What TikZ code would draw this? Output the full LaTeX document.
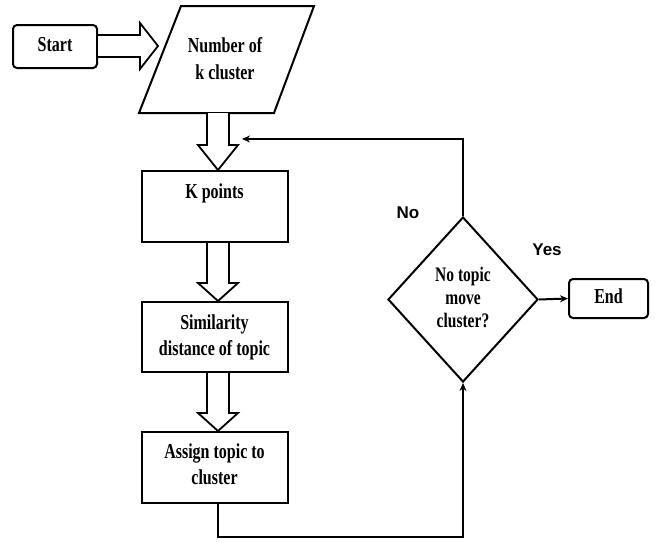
\documentclass[tikz,border=0pt]{standalone}
\usepackage{fontspec}
\setmainfont{Liberation Serif}
\newfontfamily\sansb{Liberation Sans}
\usetikzlibrary{shapes.geometric,arrows.meta,calc}
\newcommand{\tx}[1]{\scalebox{1}[1.33]{\begin{tabular}{@{}c@{}}#1\end{tabular}}}
\begin{document}
\begin{tikzpicture}[x=1pt,y=-1pt,
 box/.style={draw,line width=2pt,inner sep=0},
 rbox/.style={box,rounded corners=4pt},
 txt/.style={font=\bfseries\fontsize{16}{19.6}\selectfont,inner sep=0},
 dtxt/.style={font=\bfseries\fontsize{15.5}{17.4}\selectfont,inner sep=0},
 lbl/.style={font=\sansb\bfseries\fontsize{17}{20}\selectfont,inner sep=0},
 blk/.style={draw,line width=1.8pt,fill=white,line join=miter},
 con/.style={line width=2pt,-{Stealth[length=8pt,width=7pt]}}]
\useasboundingbox[fill=white] (0,0) rectangle (657,542);

% Start
\node[rbox,minimum width=84,minimum height=43] (start) at (55,46.5) {};
\node[txt] (starttxt) at (55,46) {\tx{Start}};

% block arrow start -> parallelogram
\draw[blk] (start.east |- 0,35) -- (140,35) -- (140,23) -- (158,46) -- (140,69) -- (140,57) -- (start.east |- 0,57);

% parallelogram
\coordinate (p1) at (181,6);
\coordinate (p2) at (314,6);
\coordinate (p3) at (274,113);
\coordinate (p4) at (139,113);
\draw[box,line join=miter] (p1) -- (p2) -- (p3) -- (p4) -- cycle;
\node[txt] (num) at (225,61) {\tx{Number of\\[1pt]k cluster}};

% boxes
\node[box,minimum width=146,minimum height=71] (kp) at (214.5,206.5) {};
\node[txt] (kptxt) at (214.5,193) {\tx{K points}};
\node[box,minimum width=146,minimum height=70] (sim) at (214.5,337) {};
\node[txt] (simtxt) at (214.5,337) {\tx{Similarity\\distance of topic}};
\node[box,minimum width=146,minimum height=71] (asg) at (214.5,467.5) {};
\node[txt] (asgtxt) at (214.5,466) {\tx{Assign topic to\\cluster}};

% down block arrows
\draw[blk] (207,113) -- (207,145) -- (198,145) -- (218,0 |- kp.north) -- (238,145) -- (229,145) -- (229,113);
\draw[blk] (207,0 |- kp.south) -- (207,283) -- (198,283) -- (218,0 |- sim.north) -- (238,283) -- (229,283) -- (229,0 |- kp.south);
\draw[blk] (207,0 |- sim.south) -- (207,413) -- (198,413) -- (218,0 |- asg.north) -- (238,413) -- (229,413) -- (229,0 |- sim.south);

% decision
\node[diamond,draw,line width=2pt,minimum width=150,minimum height=165,inner sep=0] (dec) at (463,299.5) {};
\node[dtxt] (dectxt) at (463,300) {\tx{No topic\\move\\cluster?}};

% end
\node[rbox,minimum width=79,minimum height=39] (end) at (608.5,298.5) {};
\node[txt] (endtxt) at (608.5,298.5) {\tx{End}};

% connectors
\coordinate (fb) at (242,139);
\draw[con] (dec.north) |- (fb);
\draw[con] (asg.south) ++(3,0) coordinate (asgout) -- ++(0,33) -| (dec.south);
\draw[con] (dec.east) -- (end.west);

% labels
\node[lbl] (no) at (408,213) {No};
\node[lbl] (yes) at (547,250) {Yes};
\end{tikzpicture}
\end{document}
